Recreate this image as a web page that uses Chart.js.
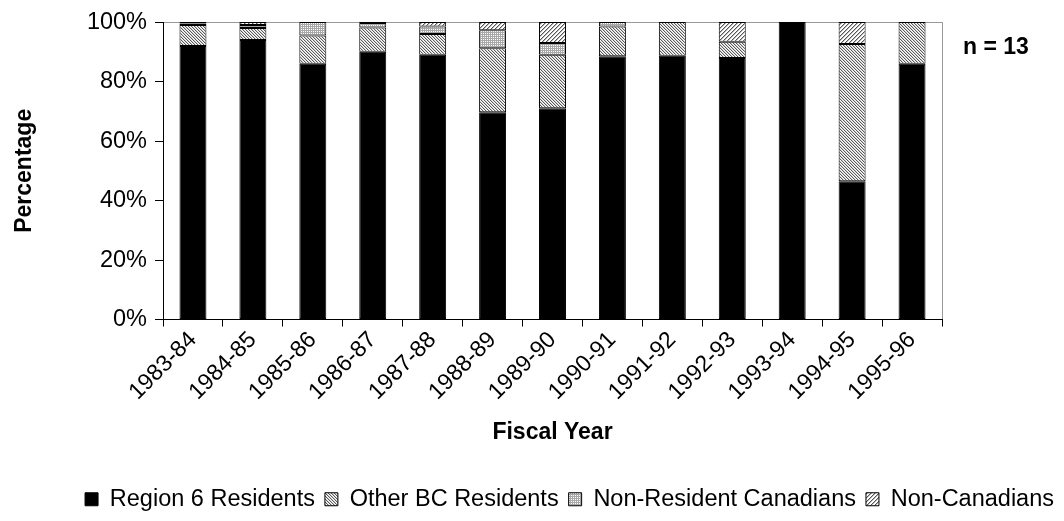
<!DOCTYPE html>
<html>
<head>
<meta charset="utf-8">
<script src="https://cdn.jsdelivr.net/npm/chart.js@4/dist/chart.umd.min.js"></script>
<style>
  html, body { margin: 0; padding: 0; background: #fff; }
  #wrap { width: 1064px; height: 521px; }
</style>
</head>
<body>
<div id="wrap"><canvas id="chart"></canvas></div>
<script>
const years = ["1983-84", "1984-85", "1985-86", "1986-87", "1987-88", "1988-89", "1989-90",
  "1990-91", "1991-92", "1992-93", "1993-94", "1994-95", "1995-96"];
const region6 = [92, 94, 86, 90, 89, 69.7, 71, 88.5, 88.7, 87.9, 100, 46.5, 86];
const otherBC = [7, 4, 9.5, 8.2, 7, 21.5, 18, 10, 11.3, 5.5, 0, 46.1, 14];
const nonResCan = [0.5, 1, 4.5, 1.5, 2.5, 6.1, 4, 1.5, 0, 0, 0, 0, 0];
const nonCan = [0.5, 1, 0, 0.3, 1.5, 2.7, 7, 0, 0, 6.6, 0, 7.4, 0];
const yTicks = [0, 20, 40, 60, 80, 100];
const sampleNote = "n = 13";

// small tiles used as fill patterns
function makePattern(size, paint) {
  const c = document.createElement("canvas");
  c.width = size; c.height = size;
  const g = c.getContext("2d");
  g.fillStyle = "#fff";
  g.fillRect(0, 0, size, size);
  paint(g, size);
  return g.createPattern(c, "repeat");
}
const hatchOther = makePattern(3, (g, s) => {
  g.fillStyle = "#5a5a5a";
  for (let i = 0; i < s; i++) g.fillRect(i, i, 1, 1);
  g.fillStyle = "#d0d0d0";
  for (let i = 0; i < s; i++) g.fillRect((i + 1) % s, i, 1, 1);
});
const dotsNonRes = makePattern(2, (g, s) => {
  g.fillStyle = "#a8a8a8";
  g.fillRect(0, 0, 2, 1);
  g.fillRect(0, 0, 1, 2);
});
const hatchNonCan = makePattern(4, (g, s) => {
  for (let i = 0; i < s; i++) {
    g.fillStyle = "#555";
    g.fillRect(s - 1 - i, i, 1, 1);
    g.fillStyle = "#bbb";
    g.fillRect((s - i) % s, i, 1, 1);
  }
});

Chart.defaults.font.family = "'Liberation Sans', Arial, sans-serif";
Chart.defaults.color = "#000";

const notePlugin = {
  id: "note",
  afterDraw(chart) {
    const { ctx, chartArea } = chart;
    ctx.save();
    ctx.font = "bold 23px 'Liberation Sans', Arial, sans-serif";
    ctx.fillStyle = "#000";
    ctx.textAlign = "left";
    ctx.textBaseline = "middle";
    ctx.fillText(sampleNote, chartArea.right + 21, chartArea.top + 26);
    ctx.restore();
  }
};

const barOpts = { borderColor: "#000", borderWidth: 1, borderSkipped: false,
  barPercentage: 0.45, categoryPercentage: 1 };

new Chart(document.getElementById("chart"), {
  type: "bar",
  data: {
    labels: years,
    datasets: [
      { label: "Region 6 Residents", data: region6, backgroundColor: "#000", ...barOpts },
      { label: "Other BC Residents", data: otherBC, backgroundColor: hatchOther, ...barOpts },
      { label: "Non-Resident Canadians", data: nonResCan, backgroundColor: dotsNonRes, ...barOpts },
      { label: "Non-Canadians", data: nonCan, backgroundColor: hatchNonCan, ...barOpts }
    ]
  },
  options: {
    responsive: true,
    maintainAspectRatio: false,
    animation: false,
    layout: { padding: { left: 5, top: 22, right: 0, bottom: 0 } },
    plugins: {
      tooltip: { enabled: false },
      legend: {
        position: "bottom",
        align: "end",
        labels: { font: { size: 23.5 }, boxWidth: 13, boxHeight: 13, padding: 10, color: "#000" }
      }
    },
    scales: {
      x: {
        stacked: true,
        border: { color: "#000", width: 1 },
        grid: {
          offset: true,
          color: ctx => ctx.type === "scale" ? "#999" : "transparent",
          tickColor: "#000",
          tickLength: 7
        },
        ticks: { font: { size: 23 }, minRotation: 45, maxRotation: 45, padding: 0 },
        title: { display: true, text: "Fiscal Year", font: { size: 23, weight: "bold" },
          padding: { top: 4, bottom: 31 } },
        afterFit: s => { s.height = 158; }
      },
      y: {
        stacked: true,
        min: 0,
        max: 100,
        border: { color: "#000", width: 1 },
        grid: {
          color: ctx => ctx.tick && ctx.tick.value === 100 ? "#999" : "transparent",
          tickColor: "#000",
          tickLength: 8
        },
        afterBuildTicks: s => { s.ticks = yTicks.map(v => ({ value: v })); },
        ticks: { font: { size: 23.5 }, padding: 8, callback: v => v + "%" },
        title: { display: true, text: "Percentage", font: { size: 23, weight: "bold" },
          padding: { top: 6, bottom: 4 } },
        afterFit: s => { s.width = 158; }
      },
      yR: {
        position: "right",
        display: true,
        grid: { display: false },
        border: { display: false },
        ticks: { display: false },
        afterFit: s => { s.width = 122; }
      }
    }
  },
  plugins: [notePlugin]
});
</script>
</body>
</html>
